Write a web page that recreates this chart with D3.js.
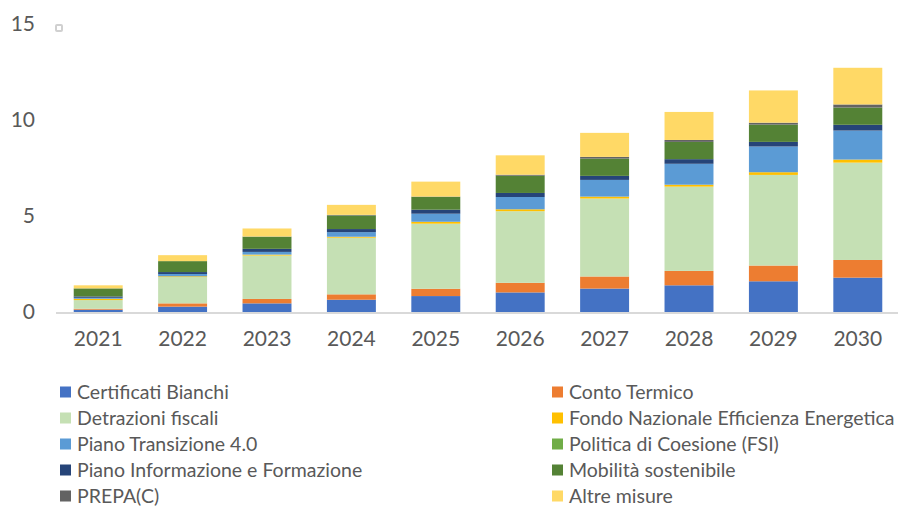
<!DOCTYPE html>
<html>
<head>
<meta charset="utf-8">
<script src="https://cdn.jsdelivr.net/npm/d3@7"></script>
<style>
  body { margin: 0; background: #fff; }
  text { font-family: Lato, "Open Sans", sans-serif; fill: #595959; }
</style>
</head>
<body>
<script>
var svgWidth = 898;
var svgHeight = 508;

// data (values in the same unit as the y axis)
var years = ["2021", "2022", "2023", "2024", "2025", "2026", "2027", "2028", "2029", "2030"];
var seriesNames = [
    "Certificati Bianchi",
    "Conto Termico",
    "Detrazioni fiscali",
    "Fondo Nazionale Efficienza Energetica",
    "Piano Transizione 4.0",
    "Politica di Coesione (FSI)",
    "Piano Informazione e Formazione",
    "Mobilità sostenibile",
    "PREPA(C)",
    "Altre misure"
];
var seriesColors = ["#4472C4", "#ED7D31", "#C5E0B4", "#FFC000", "#5B9BD5", "#70AD47", "#264478", "#548235", "#636363", "#FFD966"];

var certificatiBianchi = [0.12, 0.28, 0.45, 0.64, 0.83, 1.02, 1.22, 1.39, 1.60, 1.79];
var contoTermico       = [0.05, 0.17, 0.23, 0.28, 0.38, 0.50, 0.63, 0.75, 0.82, 0.92];
var detrazioniFiscali  = [0.45, 1.37, 2.26, 2.95, 3.39, 3.73, 4.06, 4.39, 4.72, 5.07];
var fondoNazionale     = [0.07, 0.04, 0.05, 0.05, 0.10, 0.10, 0.10, 0.10, 0.14, 0.16];
var pianoTransizione   = [0.05, 0.12, 0.14, 0.24, 0.42, 0.64, 0.87, 1.09, 1.34, 1.51];
var politicaCoesione   = [0, 0, 0, 0, 0, 0, 0, 0, 0, 0];
var pianoInformazione  = [0.07, 0.10, 0.16, 0.16, 0.21, 0.21, 0.21, 0.24, 0.24, 0.30];
var mobilita           = [0.42, 0.57, 0.63, 0.71, 0.66, 0.90, 0.90, 0.90, 0.90, 0.90];
var prepa              = [0, 0, 0.01, 0.03, 0.02, 0.05, 0.09, 0.10, 0.10, 0.16];
var altreMisure        = [0.16, 0.31, 0.42, 0.52, 0.78, 1.01, 1.25, 1.46, 1.68, 1.91];

var yTicks = [0, 5, 10, 15];

var seriesValues = [certificatiBianchi, contoTermico, detrazioniFiscali, fondoNazionale, pianoTransizione,
    politicaCoesione, pianoInformazione, mobilita, prepa, altreMisure];

// build rows for d3.stack
var rows = years.map(function (y, i) {
    var r = { year: y };
    seriesNames.forEach(function (s, k) { r[s] = seriesValues[k][i]; });
    return r;
});

var stacked = d3.stack().keys(seriesNames)(rows);

var svg = d3.select("body").append("svg")
    .attr("width", svgWidth)
    .attr("height", svgHeight);

var xScale = d3.scaleBand()
    .domain(years)
    .range([56, 900])
    .paddingInner(0.42)
    .paddingOuter(0.21);

var yScale = d3.scaleLinear()
    .domain([0, 15])
    .range([312, 24]);

var color = d3.scaleOrdinal().domain(seriesNames).range(seriesColors);

// bars
svg.append("g").selectAll("g")
    .data(stacked)
    .enter()
    .append("g")
    .attr("fill", function (d) { return color(d.key); })
    .selectAll("rect")
    .data(function (d) { return d; })
    .enter()
    .append("rect")
    .attr("x", function (d) { return xScale(d.data.year); })
    .attr("y", function (d) { return yScale(d[1]); })
    .attr("width", xScale.bandwidth())
    .attr("height", function (d) { return yScale(d[0]) - yScale(d[1]); });

// baseline
svg.append("line")
    .attr("x1", 56).attr("x2", 898)
    .attr("y1", yScale(0) + 1).attr("y2", yScale(0) + 1)
    .attr("stroke", "#D9D9D9")
    .attr("stroke-width", 2);

// y axis labels
var yAxis = svg.append("g")
    .attr("transform", "translate(35,0)")
    .call(d3.axisLeft(yScale).tickValues(yTicks).tickSize(0).tickPadding(0));
yAxis.select(".domain").remove();
yAxis.selectAll("text")
    .attr("font-size", 21)
    .attr("fill", "#595959")
    .style("font-family", "Lato, sans-serif");

// x axis labels
var xAxis = svg.append("g")
    .attr("transform", "translate(0,331)")
    .call(d3.axisBottom(xScale).tickSize(0).tickPadding(0));
xAxis.select(".domain").remove();
xAxis.selectAll("text")
    .attr("font-size", 21)
    .attr("fill", "#595959")
    .style("font-family", "Lato, sans-serif");

// little marker near the top
svg.append("rect")
    .attr("x", 56).attr("y", 25)
    .attr("width", 6).attr("height", 6)
    .attr("rx", 1)
    .attr("fill", "#fff")
    .attr("stroke", "#D0D0D0")
    .attr("stroke-width", 2);

// legend, two columns
var legend = svg.append("g").selectAll("g")
    .data(seriesNames)
    .enter()
    .append("g")
    .attr("transform", function (d, i) {
        var col = i % 2, row = Math.floor(i / 2);
        return "translate(" + (col === 0 ? 60 : 552) + "," + (392 + row * 26) + ")";
    });

legend.append("rect")
    .attr("x", 0).attr("y", -5.5)
    .attr("width", 11).attr("height", 11)
    .attr("fill", function (d) { return color(d); });

legend.append("text")
    .attr("x", 17)
    .attr("dy", "0.35em")
    .attr("font-size", 19.5)
    .text(function (d) { return d; });
</script>
</body>
</html>
